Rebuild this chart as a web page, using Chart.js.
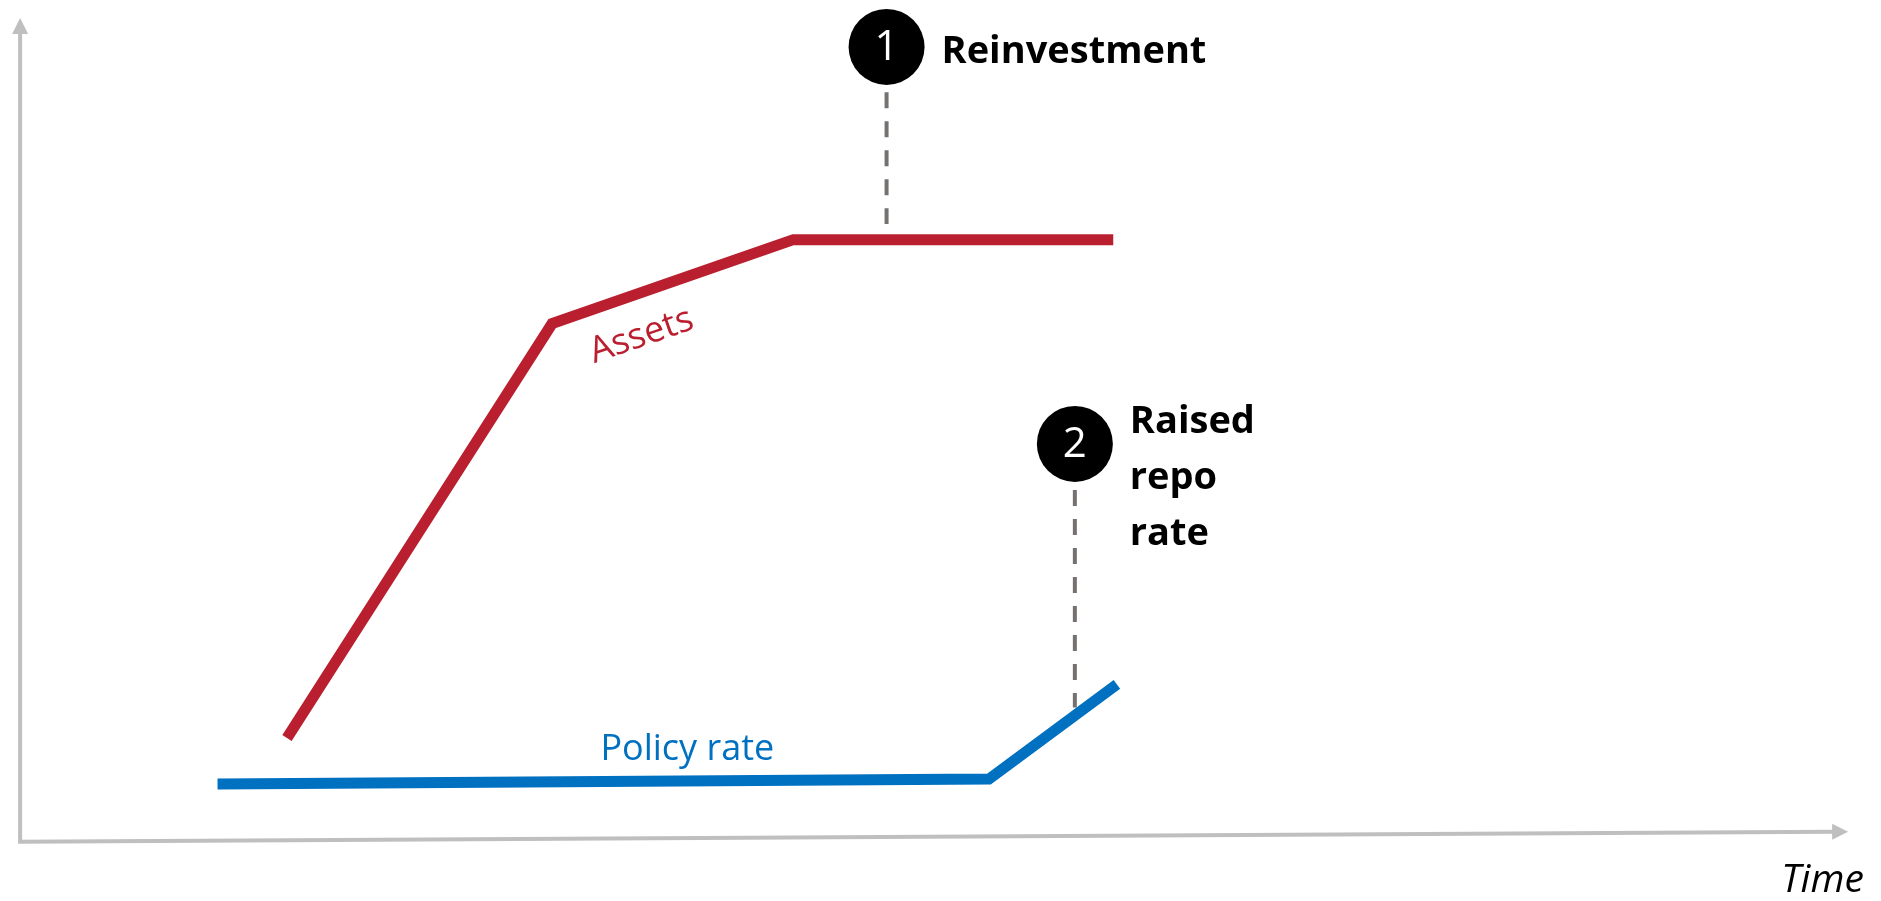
<!DOCTYPE html>
<html>
<head>
<meta charset="utf-8">
<script src="https://cdn.jsdelivr.net/npm/chart.js@4.4.1/dist/chart.umd.min.js"></script>
<style>
    html, body { margin: 0; padding: 0; background: #fff; }
    #wrap { width: 1881px; height: 901px; }
</style>
</head>
<body>
<div id="wrap"><canvas id="chart"></canvas></div>
<script>
// time on the x axis, level on the y axis (0..100 each, axes meet at 0,0)
const assetsTime = [14.6, 29.1, 42.3, 59.8];
const assetsLevel = [12.6, 62.9, 73.1, 73.1];
const policyTime = [10.8, 53.0, 60.0];
const policyLevel = [7.0, 7.6, 19.1];

// numbered markers: where they sit and how far the dashed stem reaches
const markerNumbers = ['1', '2'];
const markerTime = [47.4, 57.7];
const markerLevel = [96.5, 48.3];
const stemTop = [91.0, 42.7];
const stemBottom = [75.0, 16.3];
const markerText = [['Reinvestment'], ['Raised', 'repo', 'rate']];

const RED = '#B91F2E';
const BLUE = '#0070C0';
const GREY_AXIS = '#BFBFBF';
const GREY_STEM = '#767171';
const FONT = '"Open Sans", Lato, sans-serif';

function points(xs, ys) {
    return xs.map((x, i) => ({ x: x, y: ys[i] }));
}

let datasets = [
    {
        label: 'Assets',
        data: points(assetsTime, assetsLevel),
        borderColor: RED,
        borderWidth: 11,
        borderCapStyle: 'butt',
        showLine: true,
        pointRadius: 0
    },
    {
        label: 'Policy rate',
        data: points(policyTime, policyLevel),
        borderColor: BLUE,
        borderWidth: 11,
        borderCapStyle: 'butt',
        showLine: true,
        pointRadius: 0
    }
];

markerTime.forEach((t, i) => {
    datasets.push({
        label: 'stem ' + markerNumbers[i],
        data: [{ x: t, y: stemTop[i] }, { x: t, y: stemBottom[i] }],
        borderColor: GREY_STEM,
        borderWidth: 4,
        borderDash: [16, 13],
        borderCapStyle: 'butt',
        showLine: true,
        pointRadius: 0
    });
});

datasets.push({
    label: 'markers',
    data: points(markerTime, markerLevel),
    showLine: false,
    pointRadius: 38,
    pointBackgroundColor: '#000',
    pointBorderWidth: 0
});

const decorations = {
    id: 'decorations',
    beforeDatasetsDraw(chart) {
        const ctx = chart.ctx;
        const x = chart.scales.x, y = chart.scales.y;
        const ox = x.getPixelForValue(0), oy = y.getPixelForValue(0);
        const tx = x.getPixelForValue(100), ty = y.getPixelForValue(1.2);
        const topY = y.getPixelForValue(100);
        ctx.save();
        ctx.strokeStyle = GREY_AXIS;
        ctx.fillStyle = GREY_AXIS;
        ctx.lineWidth = 4;
        ctx.beginPath();
        ctx.moveTo(ox, oy + 2);
        ctx.lineTo(ox, topY + 14);
        ctx.moveTo(ox - 2, oy);
        ctx.lineTo(tx - 14, ty);
        ctx.stroke();
        // arrow heads
        ctx.beginPath();
        ctx.moveTo(ox, topY);
        ctx.lineTo(ox - 8, topY + 16);
        ctx.lineTo(ox + 8, topY + 16);
        ctx.closePath();
        ctx.fill();
        ctx.beginPath();
        ctx.moveTo(tx, ty);
        ctx.lineTo(tx - 16, ty - 8);
        ctx.lineTo(tx - 16, ty + 8);
        ctx.closePath();
        ctx.fill();
        ctx.restore();
    },
    afterDatasetsDraw(chart) {
        const ctx = chart.ctx;
        const x = chart.scales.x, y = chart.scales.y;
        ctx.save();

        // axis title
        ctx.fillStyle = '#000';
        ctx.font = 'italic 39px ' + FONT;
        ctx.textAlign = 'center';
        ctx.textBaseline = 'alphabetic';
        ctx.fillText('Time', x.getPixelForValue(98.6), y.getPixelForValue(-6.1));

        // series labels
        ctx.fillStyle = BLUE;
        ctx.font = '36px ' + FONT;
        ctx.textBaseline = 'middle';
        ctx.fillText('Policy rate', x.getPixelForValue(36.5), y.getPixelForValue(11.2));

        const ax = x.getPixelForValue(34.0), ay = y.getPixelForValue(61.4);
        const angle = Math.atan2(
            y.getPixelForValue(assetsLevel[2]) - y.getPixelForValue(assetsLevel[1]),
            x.getPixelForValue(assetsTime[2]) - x.getPixelForValue(assetsTime[1]));
        ctx.save();
        ctx.translate(ax, ay);
        ctx.rotate(angle);
        ctx.fillStyle = RED;
        ctx.font = '36px ' + FONT;
        ctx.fillText('Assets', 0, 0);
        ctx.restore();

        // numbers inside the markers and their notes
        markerNumbers.forEach((n, i) => {
            const cx = x.getPixelForValue(markerTime[i]);
            const cy = y.getPixelForValue(markerLevel[i]);
            ctx.fillStyle = '#fff';
            ctx.font = '42px ' + FONT;
            ctx.textAlign = 'center';
            ctx.textBaseline = 'middle';
            ctx.fillText(n, cx, cy + 1);

            ctx.fillStyle = '#000';
            ctx.font = 'bold 38px ' + FONT;
            ctx.textAlign = 'left';
            ctx.textBaseline = 'alphabetic';
            const lines = markerText[i];
            const left = cx + 55;
            const first = i === 0 ? cy + 16 : cy - 11;
            lines.forEach((line, k) => {
                ctx.fillText(line, left, first + k * 56);
            });
        });
        ctx.restore();
    }
};

new Chart(document.getElementById('chart'), {
    type: 'scatter',
    data: { datasets: datasets },
    options: {
        responsive: true,
        maintainAspectRatio: false,
        animation: false,
        layout: { padding: 0, autoPadding: false },
        plugins: {
            legend: { display: false },
            tooltip: { enabled: false }
        },
        scales: {
            x: { type: 'linear', min: -1.1, max: 101.8, display: false },
            y: { type: 'linear', min: -7.2, max: 102.2, display: false }
        }
    },
    plugins: [decorations]
});
</script>
</body>
</html>
